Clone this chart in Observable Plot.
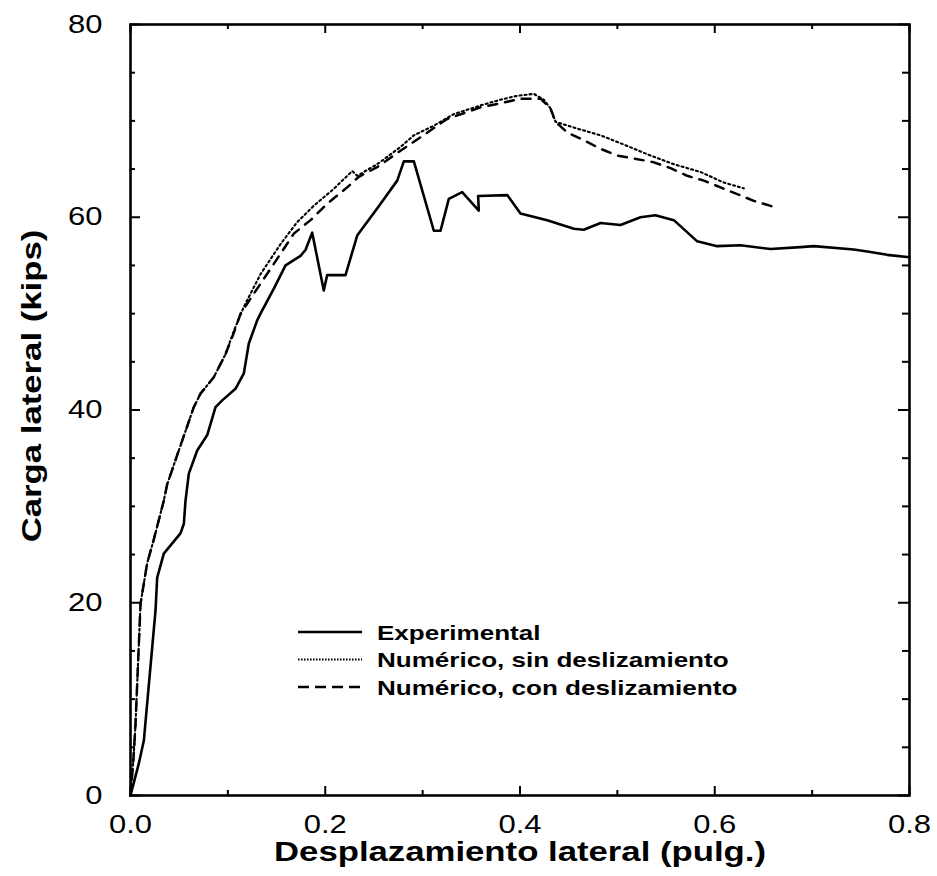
<!DOCTYPE html>
<html><head><meta charset="utf-8">
<script src="https://cdn.jsdelivr.net/npm/d3@7"></script>
<script src="https://cdn.jsdelivr.net/npm/@observablehq/plot@0.6"></script>
<style>
html,body{margin:0;padding:0;background:#fff;}
#chart{position:relative;width:937px;height:876px;overflow:hidden;}
#chart svg{position:absolute;left:0;top:0;}
</style></head><body><div id="chart"></div>
<script>
// ---- data ----
const seriesNames = ["Experimental", "Numérico, sin deslizamiento", "Numérico, con deslizamiento"];

const expX = [0, 0.0085, 0.0137, 0.0257, 0.0274, 0.0342, 0.0513, 0.0548, 0.0565, 0.0599, 0.0685, 0.0788, 0.0873, 0.0942, 0.1078, 0.1164, 0.1215, 0.1301, 0.1335, 0.1472, 0.1592, 0.1746, 0.1797, 0.1866, 0.1985, 0.2020, 0.2208, 0.2328, 0.2379, 0.2533, 0.2739, 0.2807, 0.2910, 0.3115, 0.3184, 0.3269, 0.3406, 0.3577, 0.3570, 0.3869, 0.4005, 0.4279, 0.4553, 0.4655, 0.4827, 0.5032, 0.5237, 0.5391, 0.5580, 0.5820, 0.6025, 0.6265, 0.6573, 0.6881, 0.7017, 0.7428, 0.7600, 0.7771, 0.8000];
const expY = [0, 3.3, 5.7, 19.2, 22.6, 25.1, 27.2, 28.2, 30.6, 33.4, 35.8, 37.4, 40.3, 41.0, 42.2, 43.8, 46.9, 49.3, 50.0, 52.6, 55.0, 56.0, 56.6, 58.4, 52.4, 54.0, 54.0, 58.1, 58.8, 60.9, 63.8, 65.8, 65.8, 58.6, 58.6, 61.9, 62.6, 60.7, 62.2, 62.3, 60.4, 59.7, 58.8, 58.7, 59.4, 59.2, 60.0, 60.2, 59.7, 57.5, 57.0, 57.1, 56.7, 56.9, 57.0, 56.65, 56.4, 56.1, 55.85];

const sinX = [0, 0.0031, 0.0051, 0.0103, 0.0171, 0.024, 0.0342, 0.0377, 0.0496, 0.065, 0.0719, 0.0855, 0.0976, 0.1061, 0.1164, 0.1335, 0.154, 0.1712, 0.1883, 0.2088, 0.2277, 0.2328, 0.2533, 0.2773, 0.2909, 0.3115, 0.332, 0.3594, 0.38, 0.3971, 0.4142, 0.4244, 0.4313, 0.4365, 0.4587, 0.4827, 0.5101, 0.534, 0.558, 0.5853, 0.6093, 0.6298];
const sinY = [0, 3.9, 7.3, 19.9, 24.1, 26.6, 30.6, 32.3, 35.8, 40.3, 41.7, 43.4, 45.8, 48.2, 50.7, 54.1, 57.2, 59.5, 61.2, 62.95, 64.8, 64.3, 65.5, 67.3, 68.5, 69.5, 70.7, 71.6, 72.2, 72.6, 72.8, 72.2, 71.3, 69.9, 69.2, 68.5, 67.4, 66.4, 65.5, 64.7, 63.6, 63.0];

const conX = [0, 0.0031, 0.0051, 0.0103, 0.0171, 0.024, 0.0342, 0.0377, 0.0496, 0.065, 0.0719, 0.0855, 0.0976, 0.1061, 0.113, 0.1335, 0.154, 0.1677, 0.1849, 0.202, 0.2225, 0.2345, 0.2533, 0.2773, 0.2978, 0.3252, 0.3594, 0.3834, 0.4005, 0.4211, 0.4313, 0.4365, 0.4485, 0.4655, 0.4827, 0.4998, 0.5169, 0.5374, 0.5546, 0.5717, 0.5888, 0.6059, 0.6231, 0.6401, 0.6634];
const conY = [0, 3.9, 7.3, 19.9, 24.1, 26.6, 30.6, 32.3, 35.8, 40.3, 41.7, 43.4, 45.8, 48.0, 50.0, 53.1, 56.2, 58.3, 59.7, 61.4, 63.1, 64.2, 65.2, 66.9, 68.3, 70.2, 71.4, 71.9, 72.3, 72.3, 71.3, 69.9, 68.8, 68.0, 67.1, 66.4, 66.1, 65.7, 65.1, 64.3, 63.8, 63.1, 62.4, 61.7, 61.0];

const xMajor = [0, 0.2, 0.4, 0.6, 0.8];
const xMinor = [0.1, 0.3, 0.5, 0.7];
const yMajor = [0, 20, 40, 60, 80];
const yMinor = [5, 10, 15, 25, 30, 35, 45, 50, 55, 65, 70, 75];
const xTitle = "Desplazamiento lateral (pulg.)";
const yTitle = "Carga lateral (kips)";

// ---- build ----
const rows = (xs, ys, s) => xs.map((x, i) => ({x, y: ys[i], s}));
const expData = rows(expX, expY, seriesNames[0]);
const sinData = rows(sinX, sinY, seriesNames[1]);
const conData = rows(conX, conY, seriesNames[2]);

const styles = [
  {dash: null, width: 2.6},
  {dash: "2,3", width: 2.1},
  {dash: "9,8", width: 2.5}
];
const legendDash = [null, "1.6,1.4", "11,6"];

const FONT = "'Liberation Sans', Arial, Helvetica, sans-serif";
const STRETCH = 1.24;

const W = 937, H = 876, ML = 130, MR = 28, MT = 24, MB = 81;
const PW = W - ML - MR, PH = H - MT - MB;
const MAJ = 9, MIN = 5; // inward tick lengths

const plot = Plot.plot({
  width: W, height: H,
  marginLeft: ML, marginRight: MR, marginTop: MT, marginBottom: MB,
  style: {fontFamily: FONT, fontSize: "25px", color: "#000", background: "#fff", overflow: "visible"},
  x: {domain: [0, 0.8]},
  y: {domain: [0, 80]},
  marks: [
    Plot.line(expData, {x: "x", y: "y", stroke: "#000", strokeWidth: styles[0].width, strokeLinejoin: "round"}),
    Plot.line(sinData, {x: "x", y: "y", stroke: "#000", strokeWidth: styles[1].width, strokeDasharray: styles[1].dash}),
    Plot.line(conData, {x: "x", y: "y", stroke: "#000", strokeWidth: styles[2].width, strokeDasharray: styles[2].dash}),
    // inward ticks on all four sides
    Plot.tickX(xMajor, {x: d => d, insetTop: PH - MAJ, stroke: "#000", strokeWidth: 2}),
    Plot.tickX(xMinor, {x: d => d, insetTop: PH - MIN, stroke: "#000", strokeWidth: 2}),
    Plot.tickX(xMajor, {x: d => d, insetBottom: PH - MAJ, stroke: "#000", strokeWidth: 2}),
    Plot.tickX(xMinor, {x: d => d, insetBottom: PH - MIN, stroke: "#000", strokeWidth: 2}),
    Plot.tickY(yMajor, {y: d => d, insetRight: PW - (MAJ + 1), stroke: "#000", strokeWidth: 2}),
    Plot.tickY(yMinor, {y: d => d, insetRight: PW - MIN, stroke: "#000", strokeWidth: 2}),
    Plot.tickY(yMajor, {y: d => d, insetLeft: PW - (MAJ + 2), stroke: "#000", strokeWidth: 2}),
    Plot.tickY(yMinor, {y: d => d, insetLeft: PW - (MIN + 2), stroke: "#000", strokeWidth: 2}),
    // tick labels
    Plot.axisX(xMajor, {anchor: "bottom", tickSize: 0, tickPadding: 20, tickFormat: d => d.toFixed(1), label: null}),
    Plot.axisY(yMajor, {anchor: "left", tickSize: 0, tickPadding: 28, tickFormat: d => String(d), label: null}),
    Plot.frame({stroke: "#000", strokeWidth: 2.6}),
    // axis titles
    Plot.text([xTitle], {text: d => d, frameAnchor: "bottom", textAnchor: "middle", lineAnchor: "middle", dy: 57, fontSize: 28, fontWeight: "bold", fill: "#000"}),
    Plot.text([yTitle], {text: d => d, frameAnchor: "left", textAnchor: "middle", lineAnchor: "middle", rotate: -90, dx: -98, dy: -24, fontSize: 28, fontWeight: "bold", fill: "#000"})
  ]
});

const chart = document.getElementById("chart");
chart.appendChild(plot);

// ---- legend (inside the plot area, lower middle) ----
const LEG = {x0: 298, x1: 362, tx: 377, y0: 632, step: 27.5, fontSize: 21};
const leg = d3.select(chart).append("svg")
  .attr("width", W).attr("height", H)
  .style("pointer-events", "none");
seriesNames.forEach((name, i) => {
  const cy = LEG.y0 + i * LEG.step;
  leg.append("line")
    .attr("x1", LEG.x0).attr("x2", LEG.x1).attr("y1", cy).attr("y2", cy)
    .attr("stroke", "#000").attr("stroke-width", i === 1 ? 2 : 2.4)
    .attr("stroke-dasharray", legendDash[i]);
  leg.append("text")
    .attr("x", LEG.tx).attr("y", cy + 0.36 * LEG.fontSize)
    .attr("font-family", FONT).attr("font-size", LEG.fontSize).attr("font-weight", "bold")
    .attr("fill", "#000")
    .text(name);
});

// stretch all text horizontally (the reference uses a wide Helvetica)
for (const t of chart.querySelectorAll("text")) {
  const w = t.getComputedTextLength();
  if (w > 0) {
    t.setAttribute("textLength", (w * STRETCH).toFixed(1));
    t.setAttribute("lengthAdjust", "spacingAndGlyphs");
  }
}
</script>
</body></html>
